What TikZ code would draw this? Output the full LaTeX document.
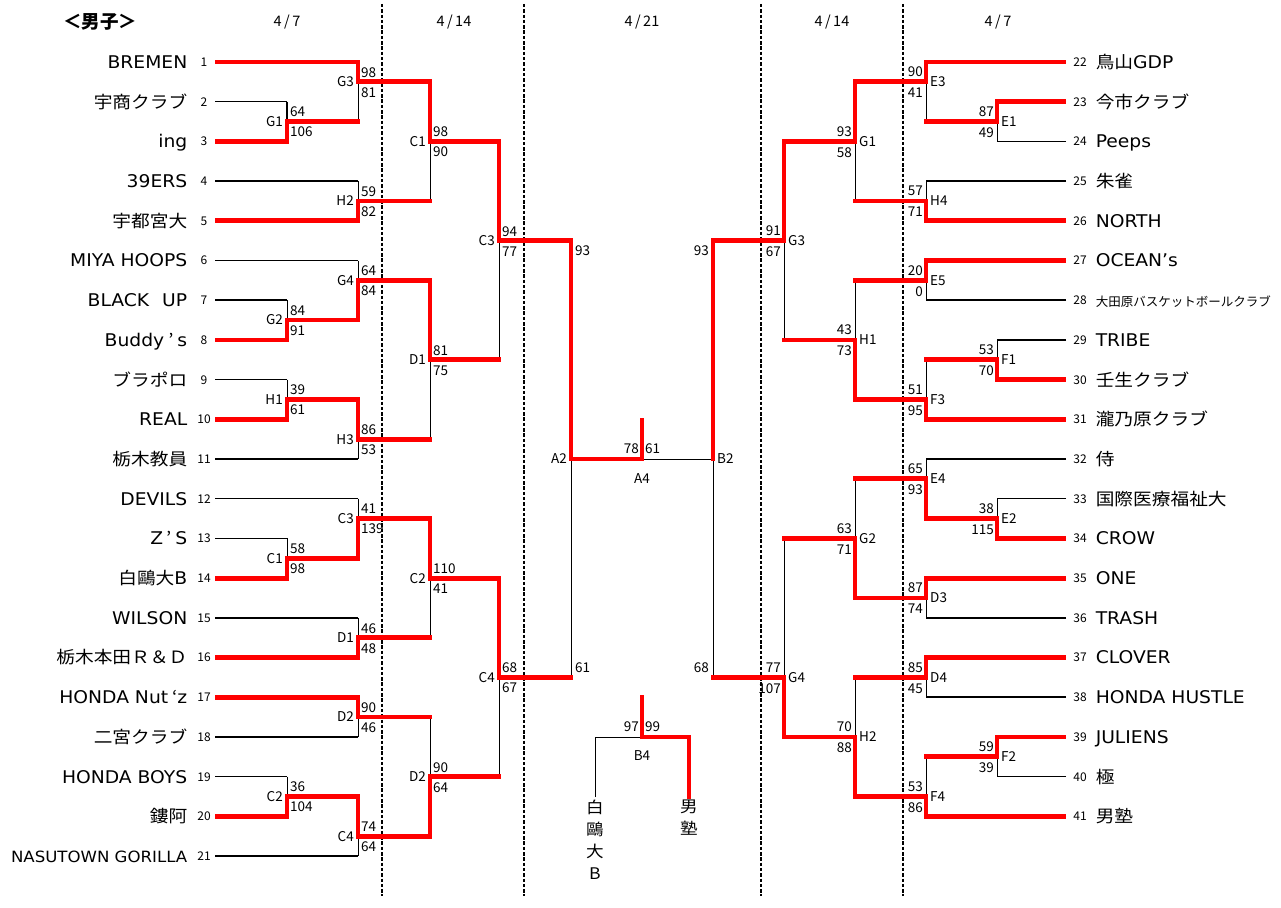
\documentclass[tikz,border=0pt]{standalone}
\usepackage{fontspec}
\setmainfont{Noto Sans CJK JP}
\newfontfamily\latfont[FakeStretch=1.07]{DejaVu Sans}
\newfontfamily\jpfont[FakeStretch=1.1]{Noto Sans CJK JP}
\newcommand\jtxt[1]{{\jpfont\fontsize{17}{18}\selectfont #1}}

\pgfdeclarelayer{fg}
\pgfsetlayers{main,fg}

% one match: x, top y, bottom y, exit y, winner start, next x, label, scores
\newcommand\lbout[9]{%
  \draw (#1,#2) -- (#1,#3);
  \begin{pgfonlayer}{fg}
    \draw[win] (#5) -| (#1,#4) -- (#6,#4);
  \end{pgfonlayer}
  \node[score, anchor = east] (#7-#1) at (#1-4,#4) {#7};
  \node[score, anchor = west] (#7-#1-a) at (#1+3,#4-9.5) {#8};
  \node[score, anchor = west] (#7-#1-b) at (#1+3,#4+10.5) {#9};}
\newcommand\rbout[9]{%
  \draw (#1,#2) -- (#1,#3);
  \begin{pgfonlayer}{fg}
    \draw[win] (#5) -| (#1,#4) -- (#6,#4);
  \end{pgfonlayer}
  \node[score, anchor = west] (#7-#1) at (#1+4,#4) {#7};
  \node[score, anchor = east] (#7-#1-a) at (#1-3,#4-10) {#8};
  \node[score, anchor = east] (#7-#1-b) at (#1-3,#4+11) {#9};}

\begin{document}
\begin{tikzpicture}
  [x = 1pt, y = -1pt, line width = 1.5pt,
   win/.style = {red, line width = 4.8pt, line cap = rect},
   teamname/.style = {font = \latfont\fontsize{17.5}{18}\selectfont, inner sep = 0pt,
                  text height = 12.8pt, text depth = 0pt},
   seed/.style = {font = \fontsize{12}{12}\selectfont, inner sep = 0pt,
                  text height = 8.8pt, text depth = 0pt},
   score/.style = {font = \fontsize{13.5}{14}\selectfont, inner sep = 0pt,
                   text height = 9.8pt, text depth = 0pt},
   dayline/.style = {dash pattern = on 3.5pt off 1.8pt, line width = 1.3pt}]

  \useasboundingbox (0,0) rectangle (1281,907);

  \node[font = \bfseries\fontsize{18.5}{19}\selectfont, inner sep = 0pt] (title) at (100,22) {＜男子＞};
  \node[score, font = \fontsize{14.5}{15}\selectfont] (d1) at (287,22) {4\,/\,7};
  \node[score, font = \fontsize{14.5}{15}\selectfont] (d2) at (454,22) {4\,/\,14};
  \node[score, font = \fontsize{14.5}{15}\selectfont] (d3) at (642,22) {4\,/\,21};
  \node[score, font = \fontsize{14.5}{15}\selectfont] (d4) at (832,22) {4\,/\,14};
  \node[score, font = \fontsize{14.5}{15}\selectfont] (d5) at (998,22) {4\,/\,7};

  \foreach \x in {382, 524, 761, 903}
    \draw[dayline] (\x,4) -- (\x,896);

  % teams
  \foreach \tm [count = \i] in {BREMEN, \jtxt{宇商クラブ}, ing, 39ERS, \jtxt{宇都宮大},
      MIYA HOOPS, BLACK\hspace{13pt}UP, Buddy\hspace{4pt}\jtxt{’}\hspace{4pt}s, \jtxt{ブラポロ}, REAL,
      \jtxt{栃木教員}, DEVILS, Z\hspace{3pt}\jtxt{’}\hspace{4pt}S, \jtxt{白鷗大}B, WILSON,
      \jtxt{栃木本田Ｒ＆Ｄ}, HONDA Nut\hspace{4pt}\jtxt{‘}z, \jtxt{二宮クラブ}, HONDA BOYS, \jtxt{鏤阿},
      {\fontsize{15.5}{16}\selectfont NASUTOWN GORILLA}}
  {
    \pgfmathsetmacro\y{62 + (\i-1)*39.7}
    \node[teamname, anchor = east] (n\i) at (188,\y) {\tm};
    \node[seed] (s\i) at (204,\y) {\i};
  }
  \foreach \tm [count = \i from 22] in {\jtxt{鳥山}GDP, \jtxt{今市クラブ}, Peeps, \jtxt{朱雀},
      NORTH, OCEAN’s, {\rmfamily\fontsize{12.5}{13}\selectfont 大田原バスケットボールクラブ},
      TRIBE, \jtxt{壬生クラブ}, \jtxt{瀧乃原クラブ}, \jtxt{侍}, \jtxt{国際医療福祉大}, CROW,
      ONE, TRASH, CLOVER, HONDA HUSTLE, JULIENS, \jtxt{極}, \jtxt{男塾}}
  {
    \pgfmathsetmacro\y{62 + (\i-22)*39.7}
    \node[teamname, anchor = west] (n\i) at (1095,\y) {\tm};
    \node[seed] (s\i) at (1080,\y) {\i};
  }
  \foreach \i/\xe in {1/358, 2/287, 3/287, 4/358, 5/358, 6/358, 7/287, 8/287, 9/287,
      10/287, 11/358, 12/358, 13/287, 14/287, 15/358, 16/358, 17/358, 18/358, 19/287,
      20/287, 21/358}
    \draw (215,{62 + (\i-1)*39.7}) -- (\xe,{62 + (\i-1)*39.7});
  \foreach \i/\xe in {22/926, 23/997, 24/997, 25/926, 26/926, 27/926, 28/926, 29/997,
      30/997, 31/926, 32/926, 33/997, 34/997, 35/926, 36/926, 37/926, 38/926, 39/997,
      40/997, 41/926}
    \draw (1066,{62 + (\i-22)*39.7}) -- (\xe,{62 + (\i-22)*39.7});

  % left side
  \lbout{287}{101.7}{141.4}{121.55}{217,141.4}{358}{G1}{64}{106}
  \lbout{287}{300.2}{339.9}{320.05}{217,339.9}{358}{G2}{84}{91}
  \lbout{287}{379.6}{419.3}{399.45}{217,419.3}{358}{H1}{39}{61}
  \lbout{287}{538.4}{578.1}{558.25}{217,578.1}{358}{C1}{58}{98}
  \lbout{287}{776.6}{816.3}{796.45}{217,816.3}{358}{C2}{36}{104}
  \lbout{358}{62}{121.55}{81.85}{217,62}{430}{G3}{98}{81}
  \lbout{358}{181.1}{220.8}{200.95}{217,220.8}{430}{H2}{59}{82}
  \lbout{358}{260.5}{320.05}{280.35}{287,320.05}{430}{G4}{64}{84}
  \lbout{358}{399.45}{459}{439.15}{287,399.45}{430}{H3}{86}{53}
  \lbout{358}{498.7}{558.25}{518.55}{287,558.25}{430}{C3}{41}{139}
  \lbout{358}{617.8}{657.5}{637.65}{217,657.5}{430}{D1}{46}{48}
  \lbout{358}{697.2}{736.9}{717.05}{217,697.2}{430}{D2}{90}{46}
  \lbout{358}{796.45}{856}{836.15}{287,796.45}{430}{C4}{74}{64}
  \lbout{430}{81.85}{200.95}{141.4}{358,81.85}{499}{C1}{98}{90}
  \lbout{430}{280.35}{439.15}{359.75}{358,280.35}{499}{D1}{81}{75}
  \lbout{430}{518.55}{637.65}{578.1}{358,518.55}{499}{C2}{110}{41}
  \lbout{430}{717.05}{836.15}{776.6}{358,836.15}{499}{D2}{90}{64}
  \lbout{499}{141.4}{359.75}{240.65}{430,141.4}{571}{C3}{94}{77}
  \lbout{499}{578.1}{776.6}{677.35}{430,578.1}{571}{C4}{68}{67}

  % right side
  \rbout{997}{101.7}{141.4}{121.55}{1064,101.7}{926}{E1}{87}{49}
  \rbout{997}{339.9}{379.6}{359.75}{1064,379.6}{926}{F1}{53}{70}
  \rbout{997}{498.7}{538.4}{518.55}{1064,538.4}{926}{E2}{38}{115}
  \rbout{997}{736.9}{776.6}{756.75}{1064,736.9}{926}{F2}{59}{39}
  \rbout{926}{62}{121.55}{81.85}{1064,62}{855}{E3}{90}{41}
  \rbout{926}{181.1}{220.8}{200.95}{1064,220.8}{855}{H4}{57}{71}
  \rbout{926}{260.5}{300.2}{280.35}{1064,260.5}{855}{E5}{20}{0}
  \rbout{926}{359.75}{419.3}{399.45}{1064,419.3}{855}{F3}{51}{95}
  \rbout{926}{459}{518.55}{478.85}{997,518.55}{855}{E4}{65}{93}
  \rbout{926}{578.1}{617.8}{597.95}{1064,578.1}{855}{D3}{87}{74}
  \rbout{926}{657.5}{697.2}{677.35}{1064,657.5}{855}{D4}{85}{45}
  \rbout{926}{756.75}{816.3}{796.45}{1064,816.3}{855}{F4}{53}{86}
  \rbout{855}{81.85}{200.95}{141.4}{926,81.85}{784}{G1}{93}{58}
  \rbout{855}{280.35}{399.45}{339.9}{926,399.45}{784}{H1}{43}{73}
  \rbout{855}{478.85}{597.95}{538.4}{926,597.95}{784}{G2}{63}{71}
  \rbout{855}{677.35}{796.45}{736.9}{926,796.45}{784}{H2}{70}{88}
  \rbout{784}{141.4}{339.9}{240.65}{855,141.4}{713}{G3}{91}{67}
  \rbout{784}{538.4}{736.9}{677.35}{855,736.9}{713}{G4}{77}{107}

  % semifinals and final
  \draw (571,240.65) -- (571,677.35);
  \draw (713,240.65) -- (713,677.35);
  \draw (642,459) -- (713,459);
  \begin{pgfonlayer}{fg}
    \draw[win] (499,240.65) -- (571,240.65) -- (571,459) -- (642,459) -- (642,420);
    \draw[win] (784,240.65) -- (713,240.65) -- (713,459);
  \end{pgfonlayer}
  \node[score, anchor = east] (A2) at (567,459) {A2};
  \node[score, anchor = west] (a2t) at (575,251) {93};
  \node[score, anchor = west] (a2b) at (575,668) {61};
  \node[score, anchor = west] (B2) at (717,459) {B2};
  \node[score, anchor = east] (b2t) at (709,251) {93};
  \node[score, anchor = east] (b2b) at (709,668) {68};
  \node[score, anchor = east] (a4l) at (639,449) {78};
  \node[score, anchor = west] (a4r) at (645,449) {61};
  \node[score] (A4) at (642,479) {A4};

  % third place
  \draw (595,797) -- (595,737) -- (642,737);
  \begin{pgfonlayer}{fg}
    \draw[win] (642,697) -- (642,737) -- (689,737) -- (689,797);
  \end{pgfonlayer}
  \node[score, anchor = east] (b4l) at (639,727) {97};
  \node[score, anchor = west] (b4r) at (645,727) {99};
  \node[score] (B4) at (642,756) {B4};
  \node[font = \jpfont\fontsize{16}{22}\selectfont, align = center, inner sep = 0pt]
    (third) at (595,840) {白\\鷗\\大\\B};
  \node[font = \jpfont\fontsize{16}{22}\selectfont, align = center, inner sep = 0pt]
    (fourth) at (689,818) {男\\塾};
\end{tikzpicture}
\end{document}
